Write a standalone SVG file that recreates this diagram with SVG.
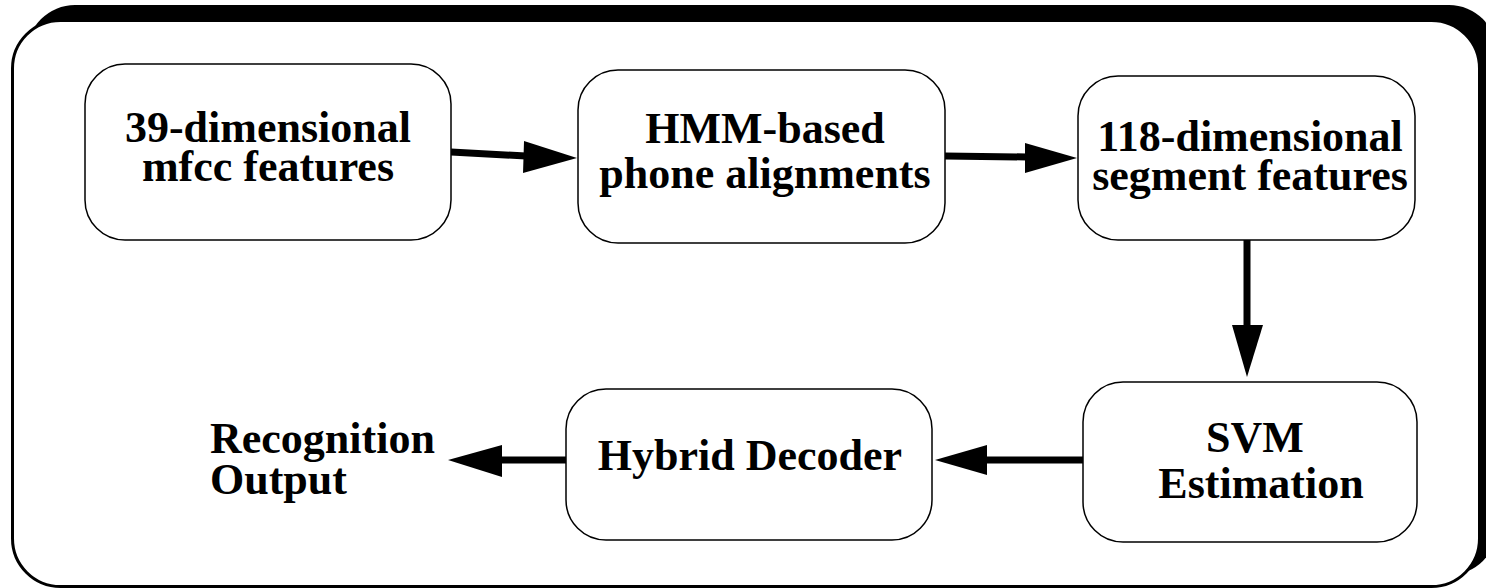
<svg xmlns="http://www.w3.org/2000/svg" width="1486" height="588" viewBox="0 0 1486 588">
<defs>
<style>
.node rect{fill:#fff;stroke:#000;stroke-width:1.5}
text{font-family:"Liberation Serif","Times New Roman",serif;font-weight:bold;font-size:44px;fill:#000}
.c{text-anchor:middle}
.conn line{stroke:#000;stroke-width:7}
.conn polygon{fill:#000}
</style>
</defs>
<g id="frame">
<rect x="27" y="5" width="1470" height="570" rx="48" ry="48" fill="#000"/>
<rect x="12.5" y="20.5" width="1467" height="566" rx="48" ry="48" fill="#fff" stroke="#000" stroke-width="3"/>
</g>
<g id="connectors" class="conn">
<line x1="451" y1="152" x2="526" y2="156"/>
<polygon points="577,158 523,173 524,141"/>
<line x1="945" y1="156" x2="1027" y2="157"/>
<polygon points="1077,158 1025,173 1025,143"/>
<line x1="1247" y1="240" x2="1247" y2="328"/>
<polygon points="1247,377 1232,325 1263,325"/>
<line x1="1083" y1="460" x2="985" y2="460"/>
<polygon points="935,460 987,445 987,475"/>
<line x1="566" y1="460" x2="500" y2="460"/>
<polygon points="448,460 502,445 502,477"/>
</g>
<g id="n1" class="node">
<rect x="85" y="64" width="366" height="176" rx="40" ry="40"/>
<text class="c" x="268" y="142">39-dimensional</text>
<text class="c" x="268" y="181">mfcc features</text>
</g>
<g id="n2" class="node">
<rect x="578" y="70" width="367" height="173" rx="40" ry="40"/>
<text class="c" x="765" y="143">HMM-based</text>
<text class="c" x="765" y="188">phone alignments</text>
</g>
<g id="n3" class="node">
<rect x="1078" y="76" width="337" height="164" rx="40" ry="40"/>
<text class="c" x="1250" y="151">118-dimensional</text>
<text class="c" x="1250" y="190">segment features</text>
</g>
<g id="n4" class="node">
<rect x="1083" y="382" width="334" height="160" rx="40" ry="40"/>
<text class="c" x="1255" y="452">SVM</text>
<text class="c" x="1261" y="498">Estimation</text>
</g>
<g id="n5" class="node">
<rect x="566" y="389" width="366" height="151" rx="40" ry="40"/>
<text class="c" x="750" y="470">Hybrid Decoder</text>
</g>
<g id="out">
<text x="210" y="453">Recognition</text>
<text x="210" y="494">Output</text>
</g>
</svg>
